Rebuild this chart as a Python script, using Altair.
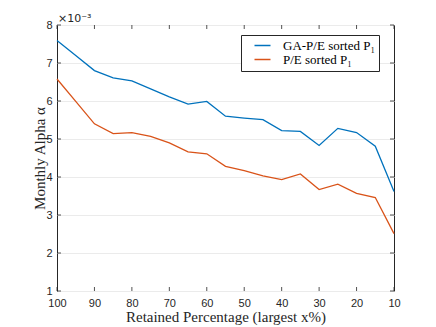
import altair as alt
import pandas as pd

# Retained percentage (x) and monthly alpha (in units of 1e-3)
x_pct = [100, 95, 90, 85, 80, 75, 70, 65, 60, 55, 50, 45, 40, 35, 30, 25, 20, 15, 10]
ga_pe = [7.59, 7.20, 6.80, 6.61, 6.53, 6.32, 6.11, 5.92, 5.99, 5.60, 5.55, 5.51,
         5.22, 5.20, 4.83, 5.28, 5.17, 4.81, 3.62]
pe = [6.58, 5.99, 5.40, 5.14, 5.17, 5.07, 4.90, 4.66, 4.61, 4.28, 4.17, 4.03,
      3.93, 4.08, 3.67, 3.81, 3.57, 3.46, 2.51]
series_names = ["GA-P/E sorted P\u2081", "P/E sorted P\u2081"]
series_colors = ["#0072BD", "#D95319"]
x_ticks = [100, 90, 80, 70, 60, 50, 40, 30, 20, 10]
y_ticks = [1, 2, 3, 4, 5, 6, 7, 8]

W, H = 337, 266
rows = []
for xv, a, b in zip(x_pct, ga_pe, pe):
    rows.append({"x": xv, "alpha": a, "series": series_names[0]})
    rows.append({"x": xv, "alpha": b, "series": series_names[1]})
df = pd.DataFrame(rows)
xt = pd.DataFrame({"x": x_ticks})
yt = pd.DataFrame({"alpha": y_ticks})

xscale = alt.Scale(domain=[10, 100], reverse=True, nice=False)
yscale = alt.Scale(domain=[1, 8], nice=False, zero=False)
axis_col = "#262626"

xaxis = alt.Axis(values=x_ticks, title="Retained Percentage (largest x%)",
                 grid=False, ticks=False, domain=False, labelPadding=6, titlePadding=1,
                 labelFlush=False, labelOverlap=False)
yaxis = alt.Axis(values=y_ticks, title="Monthly Alpha \u03b1",
                 grid=True, ticks=False, domain=False, labelPadding=5, titlePadding=-2,
                 labelFlush=False, labelOverlap=False)

lines = alt.Chart(df).mark_line(strokeWidth=1.3).encode(
    x=alt.X("x:Q", scale=xscale, axis=xaxis),
    y=alt.Y("alpha:Q", scale=yscale, axis=yaxis),
    color=alt.Color("series:N",
                    scale=alt.Scale(domain=series_names, range=series_colors),
                    sort=series_names,
                    legend=alt.Legend(title=None, orient="none", legendX=184, legendY=10,
                                      strokeColor=axis_col, fillColor="white",
                                      padding=4, symbolType="M-1.6,0H1.6", symbolSize=100,
                                      symbolOffset=11, symbolStrokeWidth=1.5,
                                      labelFont="Liberation Serif",
                                      labelFontSize=13, labelColor="black",
                                      rowPadding=0, labelOffset=14)),
)

tick_bottom = alt.Chart(xt).mark_rule(color=axis_col, strokeWidth=0.8).encode(
    x=alt.X("x:Q", scale=xscale, axis=xaxis), y=alt.value(H), y2=alt.value(H - 4))
tick_top = alt.Chart(xt).mark_rule(color=axis_col, strokeWidth=0.8).encode(
    x=alt.X("x:Q", scale=xscale, axis=xaxis), y=alt.value(0), y2=alt.value(4))
tick_left = alt.Chart(yt).mark_rule(color=axis_col, strokeWidth=0.8).encode(
    y=alt.Y("alpha:Q", scale=yscale, axis=yaxis), x=alt.value(0), x2=alt.value(4))
tick_right = alt.Chart(yt).mark_rule(color=axis_col, strokeWidth=0.8).encode(
    y=alt.Y("alpha:Q", scale=yscale, axis=yaxis), x=alt.value(W - 4), x2=alt.value(W))

mult = alt.Chart(pd.DataFrame({"t": ["\u00d710\u207b\u00b3"]})).mark_text(
    align="left", baseline="bottom", fontSize=11, color=axis_col,
    font="DejaVu Sans").encode(text="t:N", x=alt.value(1), y=alt.value(-1))

chart = alt.layer(tick_bottom, tick_top, tick_left, tick_right, lines, mult).properties(
    width=W, height=H,
    autosize=alt.AutoSizeParams(type="none"),
    padding={"left": 49, "top": 17, "right": 34, "bottom": 36},
    background="white",
).configure_view(
    stroke=axis_col, strokeWidth=1
).configure_axis(
    labelFont="Liberation Sans", labelFontSize=11, labelColor=axis_col,
    titleFont="Liberation Serif", titleFontSize=15, titleFontWeight="normal",
    titleColor=axis_col, gridColor="#ebebeb", gridWidth=1
)

chart.save("out.html", embed_options={"renderer": "svg", "actions": False})
